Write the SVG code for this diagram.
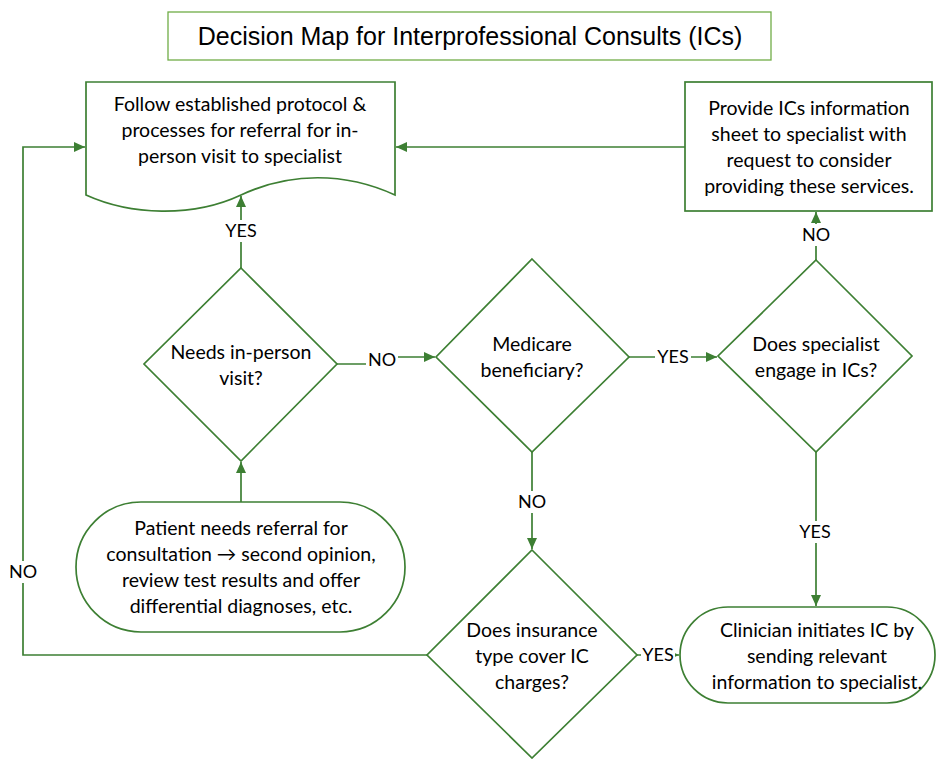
<svg xmlns="http://www.w3.org/2000/svg" width="936" height="759" viewBox="0 0 936 759">
<defs>
<marker id="arr" markerUnits="userSpaceOnUse" markerWidth="12" markerHeight="10" refX="11" refY="5" orient="auto">
<path d="M0,0 L11,5 L0,10 Z" fill="#3d7f33"/>
</marker>
<style>
.s{fill:#fff;stroke:#3d7f33;stroke-width:1.7}
.c{fill:none;stroke:#3d7f33;stroke-width:1.7}
.t{font-family:Lato,"Liberation Sans",sans-serif;font-size:19.5px;fill:#000;text-anchor:middle}
.l{font-family:Lato,"Liberation Sans",sans-serif;font-size:18px;fill:#000;text-anchor:middle}
.bg{fill:#fff}
</style>
</defs>
<rect width="936" height="759" fill="#fff"/>
<g id="title">
<rect x="168" y="12" width="603" height="48" fill="#fff" stroke="#70ad47" stroke-width="1.3"/>
<text x="470" y="45" font-family="Liberation Sans, Arial, sans-serif" font-size="25" text-anchor="middle" fill="#000">Decision Map for Interprofessional Consults (ICs)</text>
</g>
<g id="connectors">
<path class="c" d="M241,268 V196" marker-end="url(#arr)"/>
<path class="c" d="M337,364 H382 V357 H435" marker-end="url(#arr)"/>
<path class="c" d="M629,357 H717" marker-end="url(#arr)"/>
<path class="c" d="M816,260 V212" marker-end="url(#arr)"/>
<path class="c" d="M685,147 H396" marker-end="url(#arr)"/>
<path class="c" d="M532,452 V549" marker-end="url(#arr)"/>
<path class="c" d="M816,452 V606" marker-end="url(#arr)"/>
<path class="c" d="M637,655 H679" marker-end="url(#arr)"/>
<path class="c" d="M427,655 H23 V147 H85" marker-end="url(#arr)"/>
<path class="c" d="M241,502 V462" marker-end="url(#arr)"/>
<rect class="bg" x="223" y="220" width="36" height="22"/>
<text class="l" x="241" y="237">YES</text>
<rect class="bg" x="366" y="349" width="32" height="22"/>
<text class="l" x="382" y="366">NO</text>
<rect class="bg" x="655" y="346" width="36" height="22"/>
<text class="l" x="673" y="363">YES</text>
<rect class="bg" x="801" y="224" width="30" height="22"/>
<text class="l" x="816" y="241">NO</text>
<rect class="bg" x="517" y="491" width="30" height="22"/>
<text class="l" x="532" y="508">NO</text>
<rect class="bg" x="797" y="521" width="36" height="22"/>
<text class="l" x="815" y="538">YES</text>
<rect class="bg" x="641" y="644" width="34" height="22"/>
<text class="l" x="658" y="661">YES</text>
<rect class="bg" x="8" y="561" width="30" height="22"/>
<text class="l" x="23" y="578">NO</text>
</g>
<g id="n-protocol">
<path class="s" d="M86,82 H395 V195 C345,172 290,172 241,195 C192,218 130,215 86,195 Z"/>
<text class="t" x="240" y="111">Follow established protocol &amp;</text>
<text class="t" x="240" y="137">processes for referral for in-</text>
<text class="t" x="240" y="163">person visit to specialist</text>
</g>
<g id="n-provide">
<rect class="s" x="685" y="82" width="247" height="129"/>
<text class="t" x="809" y="115">Provide ICs information</text>
<text class="t" x="809" y="141">sheet to specialist with</text>
<text class="t" x="809" y="167">request to consider</text>
<text class="t" x="809" y="193">providing these services.</text>
</g>
<g id="n-needs">
<path class="s" d="M241,268 L337,364 L241,461 L144,364 Z"/>
<text class="t" x="241" y="359">Needs in-person</text>
<text class="t" x="241" y="385">visit?</text>
</g>
<g id="n-medicare">
<path class="s" d="M532,259 L629,357 L532,452 L436,357 Z"/>
<text class="t" x="532" y="351">Medicare</text>
<text class="t" x="532" y="377">beneficiary?</text>
</g>
<g id="n-specialist">
<path class="s" d="M816,260 L912,356 L816,452 L718,356 Z"/>
<text class="t" x="816" y="351">Does specialist</text>
<text class="t" x="816" y="377">engage in ICs?</text>
</g>
<g id="n-patient">
<rect class="s" x="76" y="502" width="329" height="130" rx="65" ry="65"/>
<text class="t" x="241" y="535">Patient needs referral for</text>
<text class="t" x="241" y="561">consultation → second opinion,</text>
<text class="t" x="241" y="587">review test results and offer</text>
<text class="t" x="241" y="613">differential diagnoses, etc.</text>
</g>
<g id="n-insurance">
<path class="s" d="M532,550 L637,655 L532,758 L427,655 Z"/>
<text class="t" x="532" y="637">Does insurance</text>
<text class="t" x="532" y="663">type cover IC</text>
<text class="t" x="532" y="689">charges?</text>
</g>
<g id="n-clinician">
<rect class="s" x="680" y="607" width="255" height="96" rx="48" ry="48"/>
<text class="t" x="817" y="637">Clinician initiates IC by</text>
<text class="t" x="817" y="663">sending relevant</text>
<text class="t" x="817" y="689">information to specialist.</text>
</g>
</svg>
